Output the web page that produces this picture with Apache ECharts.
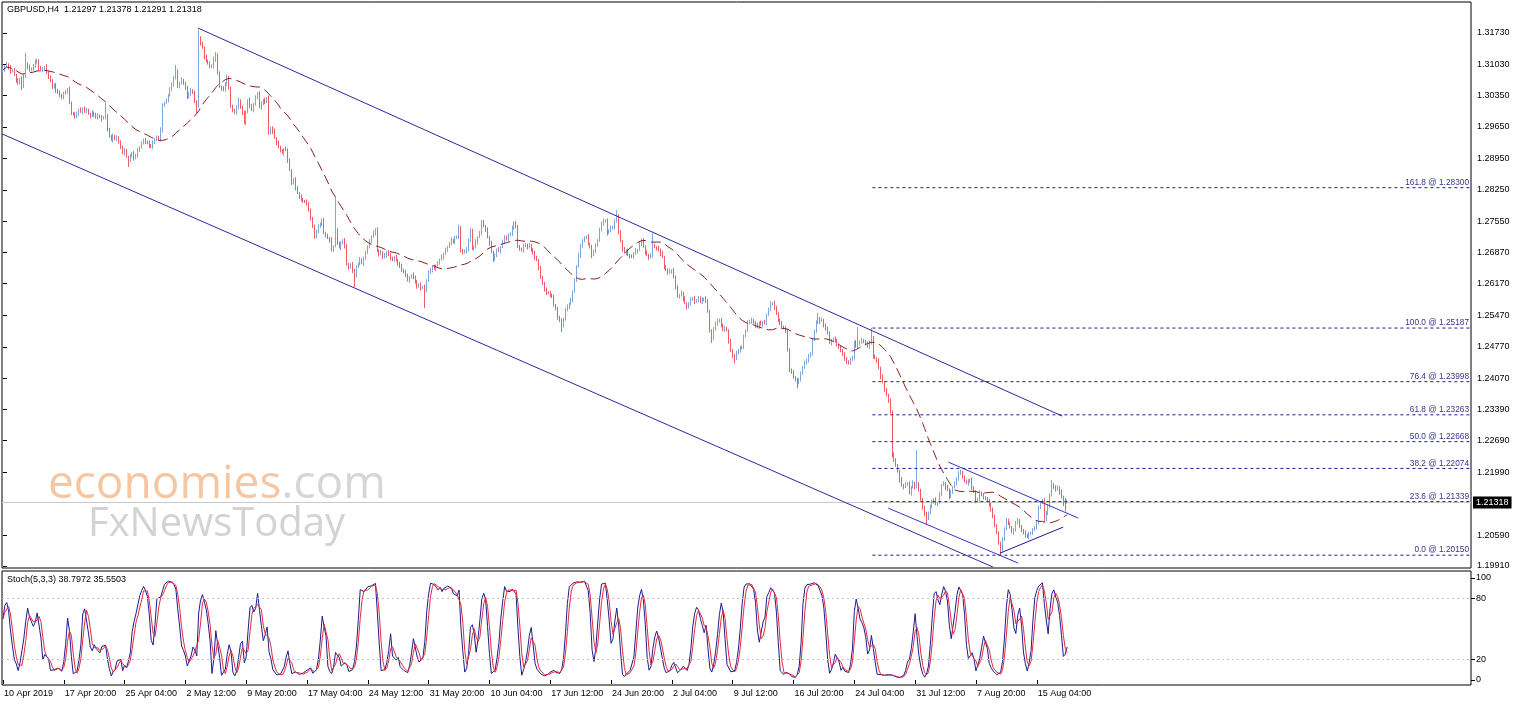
<!DOCTYPE html>
<html><head><meta charset="utf-8">
<script src="https://cdn.jsdelivr.net/npm/echarts@6/dist/echarts.min.js"></script>
<style>html,body{margin:0;padding:0;background:#fff}#c{width:1515px;height:706px}</style>
</head><body><div id="c"></div>
<script>
// GBPUSD H4 closes (price x 10000), bar 0 = 10 Apr 2019 00:00
const closes = [
13091,13098,13104,13096,13088,13091,13080,13068,13062,13070,
13053,13078,13105,13098,13090,13095,13100,13108,13113,13095,
13090,13094,13098,13085,13076,13066,13053,13058,13046,13040,
13036,13030,13038,13044,13047,13018,12996,12992,12987,12995,
13002,12998,13006,12999,13002,12994,12990,12996,12992,12985,
12990,12987,12983,12986,12990,12958,12945,12936,12944,12938,
12942,12930,12920,12907,12912,12898,12891,12900,12907,12895,
12902,12912,12920,12928,12936,12932,12929,12924,12920,12930,
12938,12942,12936,12958,13012,13018,13024,13036,13047,13060,
13072,13088,13055,13062,13069,13060,13053,13031,13038,13045,
13040,13022,13010,13160,13150,13140,13120,13112,13106,13100,
13098,13115,13126,13084,13053,13050,13047,13062,13075,13050,
13012,13000,12996,13010,13024,13008,12996,12973,12998,13024,
13012,13002,13015,13030,13040,13009,13016,13024,13020,13029,
12951,12962,12955,12940,12929,12920,12912,12907,12915,12914,
12890,12869,12840,12847,12830,12818,12810,12803,12800,12798,
12796,12780,12762,12743,12721,12735,12743,12750,12758,12730,
12724,12718,12714,12692,12700,12736,12707,12698,12706,12714,
12700,12660,12652,12660,12647,12636,12654,12662,12670,12663,
12672,12688,12698,12710,12721,12730,12738,12690,12682,12686,
12676,12680,12688,12680,12674,12670,12676,12668,12663,12655,
12648,12642,12636,12625,12630,12636,12632,12620,12610,12616,
12608,12610,12600,12625,12641,12648,12654,12650,12658,12663,
12670,12676,12684,12692,12698,12706,12714,12710,12718,12721,
12743,12690,12686,12690,12692,12715,12736,12694,12698,12710,
12720,12729,12755,12745,12736,12720,12707,12688,12670,12680,
12692,12690,12698,12710,12721,12716,12724,12729,12740,12752,
12745,12698,12694,12692,12700,12704,12698,12702,12692,12684,
12676,12670,12652,12630,12618,12603,12598,12596,12592,12588,
12570,12560,12543,12535,12522,12540,12559,12565,12572,12581,
12600,12625,12655,12680,12700,12714,12718,12721,12706,12698,
12680,12690,12702,12714,12735,12752,12756,12758,12729,12735,
12740,12743,12755,12768,12732,12712,12692,12686,12690,12681,
12678,12676,12684,12690,12692,12705,12714,12700,12685,12680,
12676,12680,12702,12698,12695,12692,12684,12676,12654,12648,
12641,12645,12647,12632,12610,12588,12592,12596,12584,12574,
12565,12572,12581,12585,12578,12581,12586,12576,12581,12584,
12580,12555,12514,12496,12515,12530,12534,12537,12525,12514,
12518,12514,12490,12468,12458,12452,12462,12470,12474,12477,
12500,12514,12530,12534,12537,12530,12524,12521,12530,12526,
12532,12530,12548,12560,12572,12574,12565,12550,12537,12528,
12521,12518,12514,12470,12426,12419,12410,12403,12396,12405,
12418,12432,12440,12448,12456,12463,12492,12512,12530,12540,
12534,12537,12525,12516,12508,12486,12490,12496,12492,12480,
12477,12468,12463,12448,12444,12441,12448,12455,12486,12478,
12482,12488,12492,12488,12486,12477,12485,12498,12455,12452,
12448,12430,12410,12398,12381,12370,12359,12330,12240,12225,
12215,12200,12182,12170,12166,12172,12175,12153,12165,12175,
12166,12172,12160,12138,12122,12105,12095,12110,12122,12135,
12137,12128,12131,12150,12170,12175,12165,12160,12144,12155,
12166,12175,12182,12198,12200,12188,12180,12175,12178,12182,
12165,12155,12135,12140,12153,12148,12144,12140,12137,12125,
12118,12100,12082,12064,12042,12030,12049,12075,12093,12085,
12078,12066,12070,12088,12093,12078,12070,12064,12060,12055,
12062,12064,12071,12078,12086,12122,12130,12137,12093,12110,
12122,12150,12172,12165,12160,12166,12155,12144,12138,12129.7,
12131.8
];
const firstOpen = 13088;
// upper / lower shadows in pips above max(open,close) / below min(open,close)
const wickUp = [
4,3,5,2,6,3,4,2,5,3,6,4,24,3,5,2,4,6,3,2,
5,3,2,6,4,3,5,2,4,3,6,2,5,3,4,7,3,2,5,4,
3,6,2,4,5,3,2,6,3,4,5,2,4,3,28,3,5,2,6,3,
4,2,5,3,6,4,3,5,2,4,3,6,2,5,3,4,2,6,3,5,
2,4,3,6,5,3,4,2,6,3,5,14,4,3,6,2,5,3,4,6,
3,5,2,20,6,4,3,5,2,4,3,6,5,2,4,3,5,2,6,3,
4,2,5,3,6,2,4,5,3,2,6,4,3,5,2,4,6,3,5,2,
5,3,4,6,2,5,3,4,2,6,3,5,2,4,6,3,2,5,4,3,
6,2,4,3,5,2,6,3,4,5,2,4,3,6,2,73,4,3,5,2,
4,6,3,2,5,3,4,2,6,3,5,2,4,6,3,5,2,4,3,6,
3,5,2,4,6,3,2,5,4,3,6,2,5,3,4,2,6,3,5,2,
4,3,5,2,6,4,3,5,2,4,3,6,2,5,3,4,6,2,5,3,
5,2,4,3,6,2,5,3,4,6,2,5,3,4,2,6,3,5,2,4,
3,6,2,5,4,3,5,2,6,3,4,2,5,3,6,4,2,5,3,4,
6,3,2,5,4,3,6,2,5,3,4,2,6,3,5,2,4,6,3,5,
2,4,3,6,5,2,4,3,6,2,5,3,4,2,6,3,5,2,4,3,
6,2,5,12,3,4,2,6,3,5,2,4,3,6,2,5,3,4,2,6,
3,5,27,4,2,6,3,5,2,4,3,6,2,5,3,4,2,6,3,5,
2,4,6,3,5,2,4,3,6,2,5,3,4,2,6,3,5,2,4,3,
6,3,2,5,4,3,6,2,5,3,4,2,6,3,5,2,4,6,3,5,
2,5,3,4,6,2,5,3,4,2,6,3,5,2,4,3,6,2,5,3,
4,2,6,3,5,2,4,3,6,12,3,5,2,4,6,3,5,2,4,3,
5,3,4,2,6,3,5,2,4,6,39,3,5,2,4,3,6,20.7,3,5,
2,4,3,6,2,5,3,4,6,3,5,2,4,6,3,5,2,4,3,6,
3,76,5,2,4,3,6,2,5,3,4,6,2,5,3,4,2,6,3,5,
2,4,6,3,5,2,4,3,6,2,5,3,4,2,6,3,5,2,4,3,
6,3,5,2,4,3,6,2,5,3,4,2,6,3,5,2,4,3,6,2,
5,3,4,2,6,3,5,2,4,3,6,2,10,3,5,4,2,6,3,4,
6
];
const wickDn = [
3,5,2,4,6,3,2,5,4,3,6,2,4,5,3,2,6,4,3,5,
2,4,6,3,5,2,4,3,6,2,5,3,4,2,6,3,5,2,4,3,
6,2,5,3,4,2,6,3,5,2,4,3,6,2,5,3,4,2,6,3,
5,2,4,3,6,2,15,4,3,5,2,6,3,4,2,5,3,6,2,4,
3,5,2,4,6,3,2,5,4,3,6,2,4,5,3,2,6,4,3,5,
2,4,14,3,5,2,6,4,3,5,2,4,6,3,2,5,3,4,6,2,
5,3,2,4,6,3,5,2,4,3,6,2,5,3,4,2,6,3,5,2,
4,3,6,2,5,3,4,2,6,3,5,2,4,3,6,2,5,3,4,2,
6,3,5,2,4,3,6,2,5,3,4,2,6,3,5,2,4,3,6,2,
5,3,4,2,6,26,5,2,4,3,6,2,5,3,4,2,6,3,5,2,
4,3,6,2,5,3,4,2,6,3,5,2,4,3,6,2,5,3,4,2,
6,3,37,2,4,3,6,2,5,3,4,2,6,3,5,2,4,3,6,2,
5,3,4,2,6,3,5,2,4,3,6,2,5,3,4,2,6,3,5,2,
4,3,6,2,5,3,4,2,6,3,5,2,4,3,6,2,5,3,4,2,
6,3,5,2,4,3,6,2,5,3,4,2,6,3,12,2,5,3,4,2,
5,3,4,2,6,3,5,2,4,3,6,2,5,3,4,2,6,3,5,2,
4,3,6,2,5,3,4,2,6,3,5,2,4,3,6,2,5,3,4,2,
6,3,5,2,4,3,6,2,5,3,4,2,6,3,5,2,4,3,6,2,
5,3,4,2,6,3,5,2,4,3,6,2,5,10,4,2,6,3,5,2,
4,3,6,2,5,12,4,2,6,3,5,2,4,3,6,2,5,3,4,2,
6,3,5,2,4,3,6,2,5,3,4,2,6,3,5,2,4,3,11,2,
5,3,4,2,6,3,5,2,4,3,6,2,5,3,4,2,6,3,5,2,
4,3,6,2,5,3,4,2,6,3,5,2,4,3,6,2,5,3,4,2,
6,3,5,2,4,3,6,2,8,3,4,2,6,3,5,2,4,3,6,2,
5,3,4,2,6,3,13,2,4,3,6,2,5,3,4,2,6,3,5,2,
4,3,6,2,5,3,4,2,6,3,5,2,4,3,6,2,5,3,4,2,
6,3,5,2,4,15,6,2,5,3,4,2,6,3,5,2,4,3,6,2,
5,3,4,2,6,3,5,2,4,3,6,2,5,3,4,2,6,3,14,18,
0.6
];
const xTickLabels = ['10 Apr 2019','17 Apr 20:00','25 Apr 04:00','2 May 12:00','9 May 20:00','17 May 04:00','24 May 12:00','31 May 20:00','10 Jun 04:00','17 Jun 12:00','24 Jun 20:00','2 Jul 04:00','9 Jul 12:00','16 Jul 20:00','24 Jul 04:00','31 Jul 12:00','7 Aug 20:00','15 Aug 04:00'];
const barsPerTick = 32;
const totalSlots = 773;
const priceTicks = [1.31730,1.31030,1.30350,1.29650,1.28950,1.28250,1.27550,1.26870,1.26170,1.25470,1.24770,1.24070,1.23390,1.22690,1.21990,1.20590,1.19910];
const priceMin = 1.198658, priceMax = 1.324175;
const lastPrice = 1.21318;
const fibLevels = [[161.8,1.28300],[100.0,1.25187],[76.4,1.23998],[61.8,1.23263],[50.0,1.22668],[38.2,1.22074],[23.6,1.21339],[0.0,1.20150]];
const fibStart = 457.5;
// trend lines: [barIndex, price] pairs
const bigUpper = [[102.6,1.31840],[557.4,1.23235]];
const bigLower = [[-0.5,1.29492],[521.0,1.19886]];
const smallUpper = [[497.4,1.22215],[565.8,1.20973]];
const smallLower = [[465.8,1.21194],[534.2,1.19975]];
const risingLine = [[524.7,1.20196],[557.9,1.20773]];
const maPeriod = 34;
const stochK = 5, stochSlow = 3, stochD = 3;
const stochTicks = [0,20,80,100];
const stochLevels = [20,80];
const headerText = 'GBPUSD,H4  1.21297 1.21378 1.21291 1.21318';
const stochText = 'Stoch(5,3,3) 38.7972 35.5503';

const BULL = '#7fa6da', BEAR = '#f25a66';
const opens = closes.map((c,i)=> i===0 ? firstOpen : closes[i-1]);
const highs = closes.map((c,i)=> Math.max(opens[i],c) + wickUp[i]);
const lows = closes.map((c,i)=> Math.min(opens[i],c) - wickDn[i]);
const candles = closes.map((c,i)=>[opens[i]/1e4, c/1e4, lows[i]/1e4, highs[i]/1e4]);
const ma = closes.map((c,i)=>{const s=Math.max(0,i-maPeriod+1);let t=0;for(let j=s;j<=i;j++)t+=closes[j];return +(t/(i-s+1)/1e4).toFixed(5);});
const num=[],den=[];
closes.forEach((c,i)=>{const s=Math.max(0,i-stochK+1);let hh=-1e9,ll=1e9;for(let j=s;j<=i;j++){hh=Math.max(hh,highs[j]);ll=Math.min(ll,lows[j]);}num.push(c-ll);den.push(hh-ll);});
const kMain = closes.map((c,i)=>{const s=Math.max(0,i-stochSlow+1);let a=0,b=0;for(let j=s;j<=i;j++){a+=num[j];b+=den[j];}return b>0?+(100*a/b).toFixed(2):50;});
const dSig = kMain.map((v,i)=>{const s=Math.max(0,i-stochD+1);let a=0;for(let j=s;j<=i;j++)a+=kMain[j];return +(a/(i-s+1)).toFixed(2);});

const cats = Array.from({length: totalSlots}, (_, i) => String(i));
const FONT = 'Liberation Sans';
const tickShown = (idx) => idx % barsPerTick === 0 && idx / barsPerTick < xTickLabels.length;

function trend(pts, color){
  return {type:'line', xAxisIndex:2, yAxisIndex:0, data:pts, showSymbol:false, silent:true, animation:false,
    lineStyle:{color:color, width:1}, z:5};
}
const fibSeries = fibLevels.map(([lv,p])=>({
  type:'line', xAxisIndex:2, yAxisIndex:0, silent:true, animation:false, z:5,
  symbol:'circle', symbolSize:0, showSymbol:true,
  lineStyle:{color:'#1e1e8e', width:1, type:[3,3]},
  data:[[fibStart,p],{value:[totalSlots-0.5,p], label:{show:true, position:'top', align:'right', distance:1, offset:[-2,0],
    formatter: lv.toFixed(1)+' @ '+p.toFixed(5), color:'#34348f', fontSize:8.3, fontFamily:FONT}}]
}));
// current price line across the price panel with the price box on the axis
const priceLine = {
  type:'line', xAxisIndex:2, yAxisIndex:0, silent:true, animation:false, z:1,
  data:[[-0.5,lastPrice],[totalSlots-0.5,lastPrice]], showSymbol:false,
  lineStyle:{color:'#c9c9c9', width:1},
  endLabel:{show:true, distance:2, formatter:lastPrice.toFixed(5), backgroundColor:'#000', color:'#fff', fontSize:9, fontFamily:FONT, padding:[2,3,1,3]}
};

const chart = echarts.init(document.getElementById('c'));
chart.setOption({
  animation:false,
  backgroundColor:'#fff',
  grid:[
    {left:2, top:2, width:1469, height:566, show:true, borderColor:'#000', borderWidth:1},
    {left:2, top:571, width:1469, height:114, show:true, borderColor:'#000', borderWidth:1}
  ],
  xAxis:[
    {type:'category', gridIndex:0, data:cats, axisLine:{show:false}, axisTick:{show:false}, axisLabel:{show:false}, splitLine:{show:false}},
    {type:'category', gridIndex:1, data:cats, axisLine:{show:false},
      axisTick:{show:true, interval:tickShown, alignWithLabel:true, length:4, lineStyle:{color:'#000'}},
      axisLabel:{show:true, interval:tickShown, align:'left', margin:4, padding:[0,0,0,1], color:'#000', fontSize:9, fontFamily:FONT,
        formatter:(v)=>xTickLabels[Math.round(Number(v)/barsPerTick)]},
      splitLine:{show:false}},
    {type:'value', gridIndex:0, min:-0.5, max:totalSlots-0.5, show:false}
  ],
  yAxis:[
    {type:'value', gridIndex:0, position:'right', min:priceMin, max:priceMax, scale:true,
      axisLine:{show:false}, splitLine:{show:false},
      axisTick:{show:true, length:4, customValues:priceTicks, lineStyle:{color:'#000'}},
      axisLabel:{show:true, customValues:priceTicks, margin:6, color:'#000', fontSize:9, fontFamily:FONT, formatter:(v)=>v.toFixed(5)}},
    {type:'value', gridIndex:1, position:'right', min:-4.9, max:106.86,
      axisLine:{show:false}, splitLine:{show:false},
      axisTick:{show:true, length:4, customValues:stochTicks, lineStyle:{color:'#000'}},
      axisLabel:{show:true, customValues:stochTicks, margin:5, color:'#000', fontSize:9, fontFamily:FONT, formatter:(v)=>String(Math.round(v))}}
  ],
  graphic:[
    {type:'text', left:48, top:462, z:0, silent:true, style:{text:'{a|economies}{b|.com}', rich:{a:{fill:'#f5c6a0', fontSize:46, fontFamily:'Open Sans'}, b:{fill:'#d6d6d6', fontSize:46, fontFamily:'Open Sans'}}}},
    {type:'text', left:88, top:505, z:0, silent:true, style:{text:'FxNewsToday', fill:'#d3d3d3', fontSize:40, fontFamily:'Open Sans'}},
    {type:'text', left:7, top:5, z:100, silent:true, style:{text:headerText, fill:'#000', fontSize:9, fontFamily:FONT}},
    {type:'text', left:7, top:575, z:100, silent:true, style:{text:stochText, fill:'#000', fontSize:9, fontFamily:FONT}}
  ],
  series:[
    priceLine,
    {type:'candlestick', xAxisIndex:0, yAxisIndex:0, data:candles, barWidth:1, z:3,
      itemStyle:{color:BULL, color0:BEAR, borderColor:BULL, borderColor0:BEAR, borderWidth:1}},
    {type:'line', xAxisIndex:0, yAxisIndex:0, data:ma, showSymbol:false, silent:true, z:4,
      lineStyle:{color:'#861c1c', width:1, type:[10,5]}},
    trend(bigUpper,'#2a2a9c'),
    trend(bigLower,'#2a2a9c'),
    trend(smallUpper,'#3434c8'),
    trend(smallLower,'#3434c8'),
    trend(risingLine,'#1c1c80'),
    ...fibSeries,
    {type:'line', xAxisIndex:1, yAxisIndex:1, data:kMain, showSymbol:false, silent:true, z:4,
      lineStyle:{color:'#1c1c8c', width:1},
      markLine:{silent:true, symbol:'none', animation:false, data:stochLevels.map(v=>({yAxis:v})),
        lineStyle:{color:'#c4c4c4', type:[2,3], width:1}, label:{show:false}}},
    {type:'line', xAxisIndex:1, yAxisIndex:1, data:dSig, showSymbol:false, silent:true, z:5,
      lineStyle:{color:'#e8283e', width:1}}
  ]
});
</script>
</body></html>
